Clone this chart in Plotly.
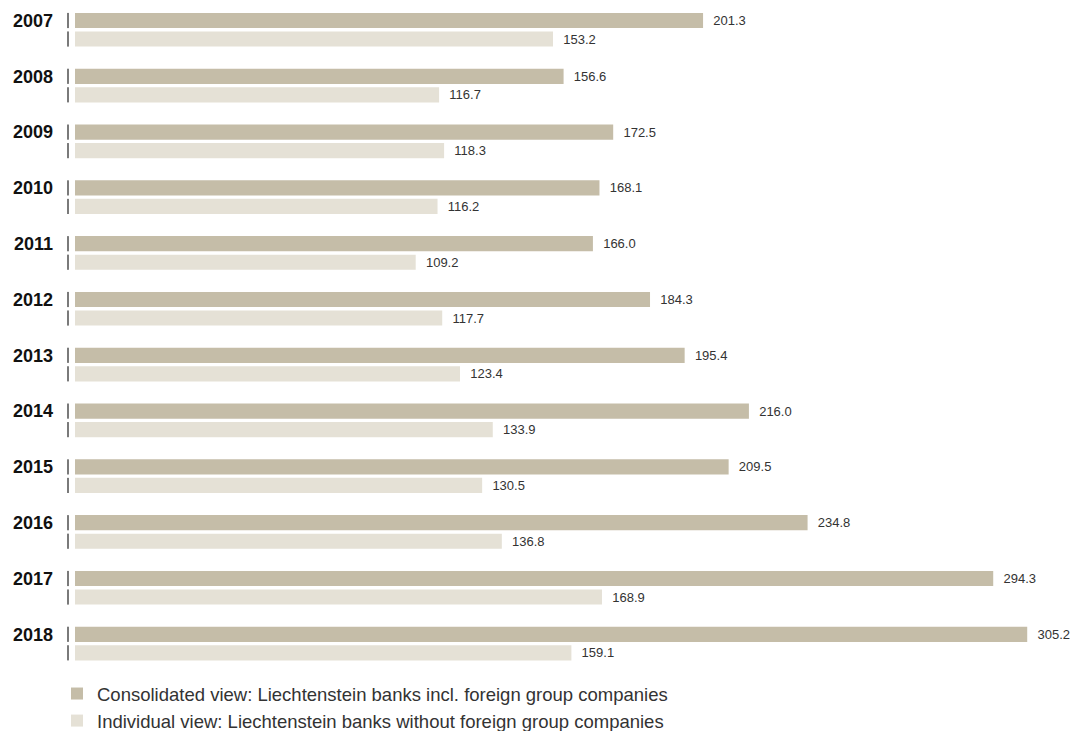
import plotly.graph_objects as go

# Balance sheet totals of Liechtenstein banks (CHF billion)
years = ["2007", "2008", "2009", "2010", "2011", "2012",
         "2013", "2014", "2015", "2016", "2017", "2018"]
consolidated = [201.3, 156.6, 172.5, 168.1, 166.0, 184.3,
                195.4, 216.0, 209.5, 234.8, 294.3, 305.2]
individual = [153.2, 116.7, 118.3, 116.2, 109.2, 117.7,
              123.4, 133.9, 130.5, 136.8, 168.9, 159.1]

name_cons = "Consolidated view: Liechtenstein banks incl. foreign group companies"
name_ind = "Individual view: Liechtenstein banks without foreign group companies"

COL_CONS = "#c5bda8"
COL_IND = "#e5e1d6"
FONT = "Liberation Sans"

# each year is one slot on a numeric y axis; the second bar sits just below the first
OFFSET = 0.332
BAR_W = 0.272
pos_cons = [i for i in range(len(years))]
pos_ind = [i + OFFSET for i in range(len(years))]

W, H = 1078, 731
M_L, M_R, M_T, M_B = 75, 0, 0, 0
PX_PER_SLOT = 55.8
plot_h = H - M_T - M_B
plot_w = W - M_L - M_R
y_top = -20.5 / PX_PER_SLOT
y_bottom = y_top + plot_h / PX_PER_SLOT

fig = go.Figure()
for vals, pos, col, name in [(consolidated, pos_cons, COL_CONS, name_cons),
                             (individual, pos_ind, COL_IND, name_ind)]:
    fig.add_trace(go.Bar(
        x=vals, y=pos, orientation="h", width=BAR_W,
        marker=dict(color=col, line=dict(width=0)),
        name=name,
        text=["\u00a0\u00a0" + f"{v:.1f}" for v in vals],
        textposition="outside", textangle=0, constraintext="none",
        cliponaxis=False,
        textfont=dict(family=FONT, size=13, color="#333333"),
        hoverinfo="skip",
    ))

# short grey markers to the left of every bar
shapes = []
for pos in pos_cons + pos_ind:
    shapes.append(dict(
        type="line", xref="paper", yref="y",
        x0=-0.007, x1=-0.007,
        y0=pos - BAR_W / 2, y1=pos + BAR_W / 2,
        line=dict(color="#7a7a7a", width=2),
    ))

fig.update_layout(
    width=W, height=H,
    margin=dict(l=M_L, r=M_R, t=M_T, b=M_B, pad=0, autoexpand=False),
    paper_bgcolor="white", plot_bgcolor="white",
    barmode="overlay",
    shapes=shapes,
    showlegend=True,
    legend=dict(
        orientation="v", xref="container", yref="container",
        x=57 / W, xanchor="left",
        y=1 - 675 / H, yanchor="top",
        font=dict(family=FONT, size=18.5, color="#333333"),
        bgcolor="rgba(0,0,0,0)", traceorder="normal",
    ),
    xaxis=dict(
        range=[0, plot_w / 3.12], visible=False, fixedrange=True,
    ),
    yaxis=dict(
        range=[y_bottom, y_top], tickmode="array",
        tickvals=pos_cons, ticktext=years,
        tickfont=dict(family=FONT, size=18, color="#111111", weight="bold"),
        ticks="", showgrid=False, zeroline=False, showline=False,
        ticklabelstandoff=21, fixedrange=True, automargin=False,
    ),
    font=dict(family=FONT),
)

fig.write_html("out.html", include_plotlyjs=True, config={"displayModeBar": False})
